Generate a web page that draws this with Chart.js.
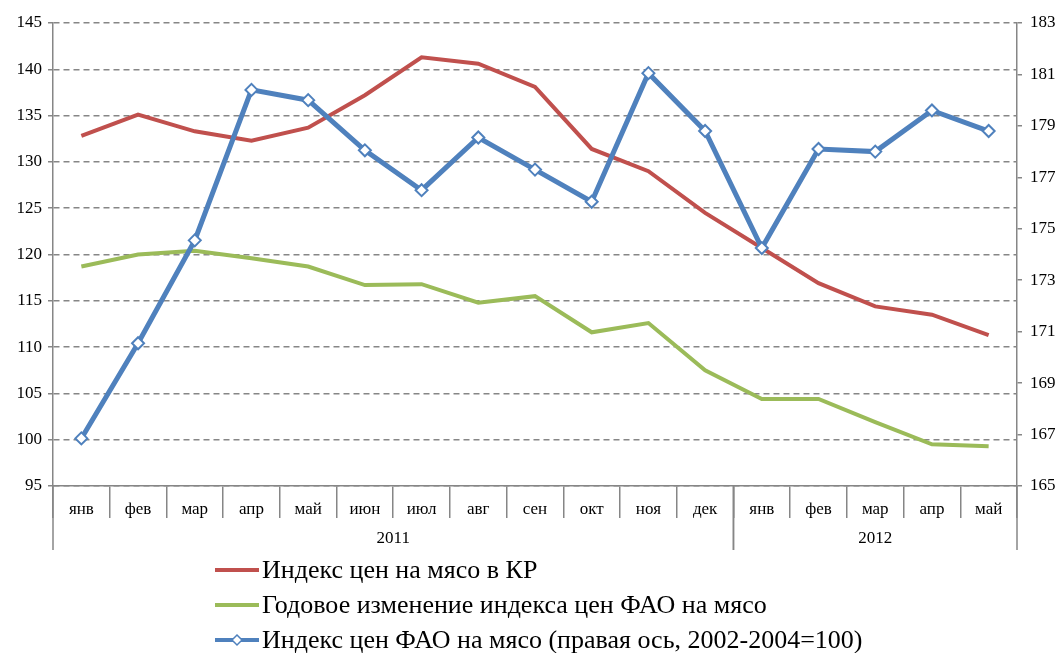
<!DOCTYPE html>
<html>
<head>
<meta charset="utf-8">
<script src="https://cdn.jsdelivr.net/npm/chart.js@4"></script>
<style>
  body { margin: 0; background: #fff; font-family: "Liberation Serif", serif; }
  #wrap { position: relative; width: 1062px; height: 653px; }
  #box { position: absolute; left: 0; top: 0; width: 1062px; height: 555px; }
  #legend { position: absolute; left: 213px; top: 552px; }
  .item { height: 35px; display: flex; align-items: center; font-size: 26px; color: #000; }
  .item svg { margin-right: 1px; }
</style>
</head>
<body>
<div id="wrap">
  <div id="box"><canvas id="chart"></canvas></div>
  <div id="legend"></div>
</div>
<script>
const months = ['янв', 'фев', 'мар', 'апр', 'май', 'июн', 'июл', 'авг', 'сен', 'окт', 'ноя', 'дек',
                'янв', 'фев', 'мар', 'апр', 'май'];
const years = [
    { label: '2011', from: 0, to: 11 },
    { label: '2012', from: 12, to: 16 }
];
// Индекс цен на мясо в КР (левая ось)
const kgIndex = [132.8, 135.1, 133.3, 132.3, 133.7, 137.2, 141.3, 140.6, 138.1, 131.4, 129.0, 124.5,
                 120.7, 116.9, 114.4, 113.5, 111.3];
// Годовое изменение индекса цен ФАО (левая ось)
const faoYearly = [118.7, 120.0, 120.4, 119.6, 118.7, 116.7, 116.8, 114.8, 115.5, 111.6, 112.6, 107.5,
                   104.4, 104.4, 101.9, 99.5, 99.3];
// Индекс цен ФАО на мясо (правая ось)
const faoIndex = [166.85, 170.55, 174.55, 180.4, 180.0, 178.05, 176.5, 178.55, 177.3, 176.05, 181.05, 178.8,
                  174.25, 178.1, 178.0, 179.6, 178.8];

const names = ['Индекс цен на мясо в КР', 'Годовое изменение индекса цен ФАО на мясо',
               'Индекс цен ФАО на мясо (правая ось, 2002-2004=100)'];
const colors = ['#C0504D', '#9BBB59', '#4F81BD'];
const axisGray = '#868686';

// separators and year row under the month labels
const yearRows = {
    id: 'yearRows',
    afterDraw(chart) {
        const ctx = chart.ctx;
        const x = chart.scales.x;
        const top = chart.chartArea.bottom;
        ctx.save();
        ctx.strokeStyle = axisGray;
        ctx.lineWidth = 1.5;
        ctx.fillStyle = '#000';
        ctx.font = '17px "Liberation Serif"';
        ctx.textAlign = 'center';
        ctx.textBaseline = 'middle';
        years.forEach(y => {
            const x0 = x.getPixelForValue(y.from - 0.5);
            const x1 = x.getPixelForValue(y.to + 0.5);
            [x0, x1].forEach(px => {
                ctx.beginPath();
                ctx.moveTo(px, top);
                ctx.lineTo(px, top + 64);
                ctx.stroke();
            });
            ctx.fillText(y.label, (x0 + x1) / 2, top + 53);
        });
        ctx.restore();
    }
};

const ctx = document.getElementById('chart').getContext('2d');
new Chart(ctx, {
    type: 'line',
    data: {
        labels: months,
        datasets: [
            { label: names[2], data: faoIndex, yAxisID: 'y2', borderColor: colors[2], borderWidth: 5,
              pointStyle: 'rectRot', pointRadius: 6, pointBackgroundColor: '#fff', pointBorderColor: colors[2],
              pointBorderWidth: 2, order: 0 },
            { label: names[0], data: kgIndex, yAxisID: 'y', borderColor: colors[0], borderWidth: 4,
              pointRadius: 0, order: 1 },
            { label: names[1], data: faoYearly, yAxisID: 'y', borderColor: colors[1], borderWidth: 4,
              pointRadius: 0, order: 2 }
        ]
    },
    options: {
        responsive: true,
        maintainAspectRatio: false,
        animation: false,
        layout: { padding: { top: 23, left: 0, right: 0, bottom: 0 } },
        elements: { line: { tension: 0 } },
        plugins: { legend: { display: false }, tooltip: { enabled: false } },
        scales: {
            x: {
                offset: true,
                grid: { display: true, drawOnChartArea: false, offset: true, tickLength: 32,
                        color: axisGray, lineWidth: 1.5 },
                border: { display: true, color: axisGray, width: 1.5 },
                ticks: { color: '#000', font: { family: 'Liberation Serif', size: 17 }, padding: -19,
                         maxRotation: 0, autoSkip: false },
                afterFit(s) { s.height = 555 - 486; }
            },
            y: {
                position: 'left',
                min: 95, max: 145,
                ticks: { stepSize: 5, color: '#000', font: { family: 'Liberation Serif', size: 17 }, padding: 6 },
                grid: { color: axisGray, lineWidth: 1.5, tickLength: 5, drawTicks: true },
                border: { display: true, color: axisGray, width: 1.5, dash: [6, 4] },
                afterFit(s) { s.width = 53; }
            },
            y2: {
                position: 'right',
                min: 165, max: 183,
                ticks: { stepSize: 2, color: '#000', font: { family: 'Liberation Serif', size: 17 }, padding: 8 },
                grid: { drawOnChartArea: false, color: axisGray, lineWidth: 1.5, tickLength: 5 },
                border: { display: true, color: axisGray, width: 1.5 },
                afterFit(s) { s.width = 1062 - 1017; }
            }
        }
    },
    plugins: [yearRows]
});

// legend: one row per series
const legend = document.getElementById('legend');
[0, 1, 2].forEach(i => {
    const row = document.createElement('div');
    row.className = 'item';
    const marker = i === 2
        ? '<path d="M24 5 L29 10 L24 15 L19 10 Z" fill="#fff" stroke="' + colors[i] + '" stroke-width="1.5"/>'
        : '';
    row.innerHTML = '<svg width="48" height="20"><line x1="2" y1="10" x2="46" y2="10" stroke="' + colors[i] +
        '" stroke-width="4"/>' + marker + '</svg><span>' + names[i] + '</span>';
    legend.appendChild(row);
});
</script>
</body>
</html>
